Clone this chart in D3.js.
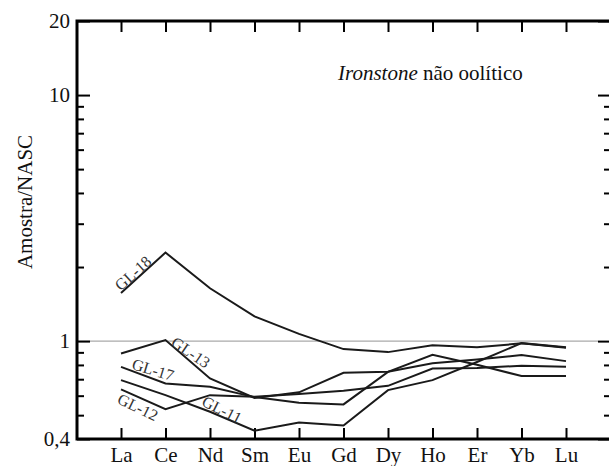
<!DOCTYPE html>
<html>
<head>
<meta charset="utf-8">
<script src="https://cdn.jsdelivr.net/npm/d3@7"></script>
<style>
  body { margin: 0; background: #fff; }
</style>
</head>
<body>
<svg id="chart" width="609" height="466"></svg>
<script>
// Data
const elements = ["La", "Ce", "Nd", "Sm", "Eu", "Gd", "Dy", "Ho", "Er", "Yb", "Lu"];

const gl18 = [1.57, 2.29, 1.64, 1.26, 1.07, 0.928, 0.902, 0.961, 0.943, 0.979, 0.939];
const gl13 = [0.891, 1.01, 0.705, 0.587, 0.619, 0.743, 0.75, 0.812, 0.841, 0.877, 0.829];
const gl17 = [0.786, 0.673, 0.652, 0.592, 0.561, 0.553, 0.75, 0.88, 0.802, 0.721, 0.721];
const gl12 = [0.636, 0.529, 0.603, 0.594, 0.609, 0.628, 0.658, 0.774, 0.777, 0.794, 0.786];
const gl11 = [0.694, 0.603, 0.516, 0.432, 0.467, 0.454, 0.632, 0.694, 0.822, 0.981, 0.943];

const seriesNames = ["GL-18", "GL-13", "GL-17", "GL-12", "GL-11"];
const seriesValues = [gl18, gl13, gl17, gl12, gl11];

const majorTicks = [0.4, 1, 10, 20];
const majorLabels = ["0,4", "1", "10", "20"];
const minorTicks = [0.5, 0.6, 0.7, 0.8, 0.9, 2, 3, 4, 5, 6, 7, 8, 9];

// label anchor: index along the element axis and value, plus rotation
const labelIdx = [0.27, 1.57, 0.72, 0.38, 2.27];
const labelVal = [1.89, 0.9, 0.765, 0.539, 0.527];
const labelRot = [-42, 34, 17, 26, 27];

// Layout
const plotLeft = 77, plotRight = 611, plotTop = 21, plotBottom = 439;
const serif = '"Liberation Serif", "DejaVu Serif", "Times New Roman", serif';

const svg = d3.select("#chart");

const x = d3.scalePoint().domain(elements).range([121, 566]);
const y = d3.scaleLog().domain([0.4, 20]).range([plotBottom, plotTop]);

// Reference line at 1
svg.append("line")
  .attr("x1", plotLeft).attr("x2", plotRight - 13)
  .attr("y1", y(1)).attr("y2", y(1))
  .attr("stroke", "#aaa").attr("stroke-width", 1.2);

// Axes
const styleAxis = (g) => {
  g.attr("font-family", null);
  g.select(".domain").remove();
  g.selectAll(".tick line").attr("stroke", "#000").attr("stroke-width", 2);
  g.selectAll(".tick text")
    .style("font-family", serif)
    .style("font-size", "21px")
    .attr("fill", "#111");
};

svg.append("g")
  .attr("transform", `translate(0,${plotBottom})`)
  .call(d3.axisBottom(x).tickSizeInner(-11).tickSizeOuter(0).tickPadding(8))
  .call(styleAxis);

svg.append("g")
  .attr("transform", `translate(0,${plotTop})`)
  .call(d3.axisTop(x).tickSizeInner(-11).tickSizeOuter(0).tickFormat(""))
  .call(styleAxis);

svg.append("g")
  .attr("transform", `translate(${plotLeft},0)`)
  .call(d3.axisLeft(y).tickValues(majorTicks).tickSizeInner(-13).tickSizeOuter(0)
    .tickPadding(7).tickFormat((d, i) => majorLabels[i]))
  .call(styleAxis);

svg.append("g")
  .attr("transform", `translate(${plotLeft},0)`)
  .call(d3.axisLeft(y).tickValues(minorTicks).tickSizeInner(-7).tickSizeOuter(0).tickFormat(""))
  .call(styleAxis);

svg.append("g")
  .attr("transform", `translate(${plotRight},0)`)
  .call(d3.axisRight(y).tickValues(majorTicks).tickSizeInner(-13).tickSizeOuter(0).tickFormat(""))
  .call(styleAxis);

svg.append("g")
  .attr("transform", `translate(${plotRight},0)`)
  .call(d3.axisRight(y).tickValues(minorTicks).tickSizeInner(-7).tickSizeOuter(0).tickFormat(""))
  .call(styleAxis);

// Frame
svg.append("rect")
  .attr("x", plotLeft).attr("y", plotTop)
  .attr("width", plotRight - plotLeft).attr("height", plotBottom - plotTop)
  .attr("fill", "none").attr("stroke", "#000").attr("stroke-width", 3);

// Lines
const line = d3.line()
  .x((d, i) => x(elements[i]))
  .y((d) => y(d));

svg.selectAll("path.series")
  .data(seriesValues)
  .join("path")
  .classed("series", true)
  .attr("d", line)
  .attr("fill", "none")
  .attr("stroke", "#1a1a1a")
  .attr("stroke-width", 2)
  .attr("stroke-linejoin", "miter");

// Series labels
svg.selectAll("text.series-label")
  .data(seriesNames)
  .join("text")
  .classed("series-label", true)
  .attr("transform", (d, i) => {
    const px = x(elements[0]) + labelIdx[i] * x.step();
    const py = y(labelVal[i]);
    return `translate(${px},${py}) rotate(${labelRot[i]})`;
  })
  .attr("text-anchor", "middle")
  .attr("dominant-baseline", "central")
  .style("font-family", serif)
  .style("font-size", "16px")
  .attr("fill", "#333")
  .text((d) => d);

// Y title
svg.append("text")
  .attr("transform", `translate(32,${(plotTop + plotBottom) / 2 - 28}) rotate(-90)`)
  .attr("text-anchor", "middle")
  .style("font-family", serif)
  .style("font-size", "21px")
  .attr("fill", "#111")
  .text("Amostra/NASC");

// Panel title
const title = svg.append("text")
  .attr("x", 338).attr("y", 80)
  .style("font-family", serif)
  .style("font-size", "21px")
  .attr("fill", "#111");
title.append("tspan").style("font-style", "italic").text("Ironstone");
title.append("tspan").text(" não oolítico");
</script>
</body>
</html>
